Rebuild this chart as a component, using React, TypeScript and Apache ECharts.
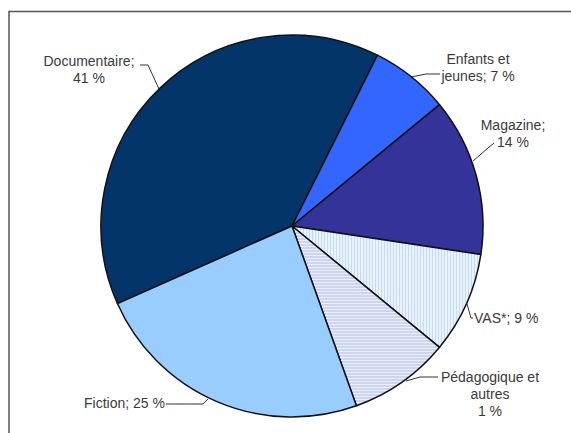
import React, { useEffect, useRef } from "react";
import * as echarts from "echarts";

const categories = ["Documentaire", "Enfants et jeunes", "Magazine", "VAS*", "Pédagogique et autres", "Fiction"];
const values = [41, 7, 14, 9, 9, 25];
const shownPercents = ["41 %", "7 %", "14 %", "9 %", "1 %", "25 %"];

const colors = ["#03356a", "#3366ff", "#333399", "#e8f3ff", "#cdd5f6", "#99ccff"];

function labelText(i: number): string {
  const name = categories[i];
  const pct = shownPercents[i];
  if (i === 1) return "Enfants et\njeunes; " + pct;
  if (i === 4) return "Pédagogique et\nautres\n" + pct;
  if (i === 3 || i === 5) return name + "; " + pct;
  return name + ";\n" + pct;
}

const labelPlacement = [
  { x: 89, y: 69, align: "center", line: [[159, 89], [148, 65], [140, 65]] },
  { x: 478, y: 67, align: "center", line: [[411, 77], [426, 74], [440, 74]] },
  { x: 513, y: 133, align: "center", line: [[473, 161], [488, 148], [494, 143]] },
  { x: 474, y: 318, align: "left", line: [[467, 304], [471, 318], [473, 318]] },
  { x: 490, y: 394, align: "center", line: [[406, 381], [420, 377], [438, 377]] },
  { x: 165, y: 403, align: "right", line: [[208, 399], [203, 404], [166, 404]] },
];

function stripePattern(bg: string, stripe: string, vertical: boolean): any {
  const c = document.createElement("canvas");
  c.width = 3;
  c.height = 3;
  const ctx = c.getContext("2d")!;
  ctx.fillStyle = bg;
  ctx.fillRect(0, 0, 3, 3);
  ctx.fillStyle = stripe;
  if (vertical) ctx.fillRect(0, 0, 1, 3);
  else ctx.fillRect(0, 0, 3, 1);
  return { image: c, repeat: "repeat" };
}

export default function App() {
  const ref = useRef<HTMLDivElement>(null);
  useEffect(() => {
    if (!ref.current) return;
    const chart = echarts.init(ref.current, null, { renderer: "svg" });
    const data = categories.map((c, i) => {
      let color: any = colors[i];
      if (i === 3) color = stripePattern(colors[i], "#c6daf0", true);
      else if (i === 4) color = stripePattern(colors[i], "#eef1fd", false);
      return { name: c, value: values[i], itemStyle: { color } };
    });
    chart.setOption({
      animation: false,
      graphic: [
        {
          type: "polyline",
          shape: { points: [[9, 433], [9, 11.5], [571, 11.5]] },
          style: { stroke: "#555", lineWidth: 1.5, fill: "none" },
          silent: true,
        },
      ],
      series: [
        {
          type: "pie",
          center: [292, 226],
          radius: 191,
          startAngle: 204,
          clockwise: true,
          silent: true,
          data,
          itemStyle: { borderColor: "#111", borderWidth: 1.5 },
          label: {
            show: true,
            position: "outside",
            formatter: (p: any) => labelText(p.dataIndex),
            fontFamily: "Liberation Sans, Arial, sans-serif",
            fontSize: 14,
            lineHeight: 17,
            color: "#3a3a3a",
            overflow: "none",
            edgeDistance: 0,
            bleedMargin: 0,
          },
          labelLine: { show: true, lineStyle: { color: "#333", width: 1 } },
          labelLayout: (params: any) => {
            const p = labelPlacement[params.dataIndex];
            return {
              x: p.x,
              y: p.y,
              align: p.align,
              verticalAlign: "middle",
              labelLinePoints: p.line,
            };
          },
          emphasis: { disabled: true },
        },
      ],
    });
    return () => chart.dispose();
  }, []);
  return (
    <div
      ref={ref}
      style={{ position: "absolute", left: 0, top: 0, width: 571, height: 433, background: "#fff" }}
    />
  );
}
